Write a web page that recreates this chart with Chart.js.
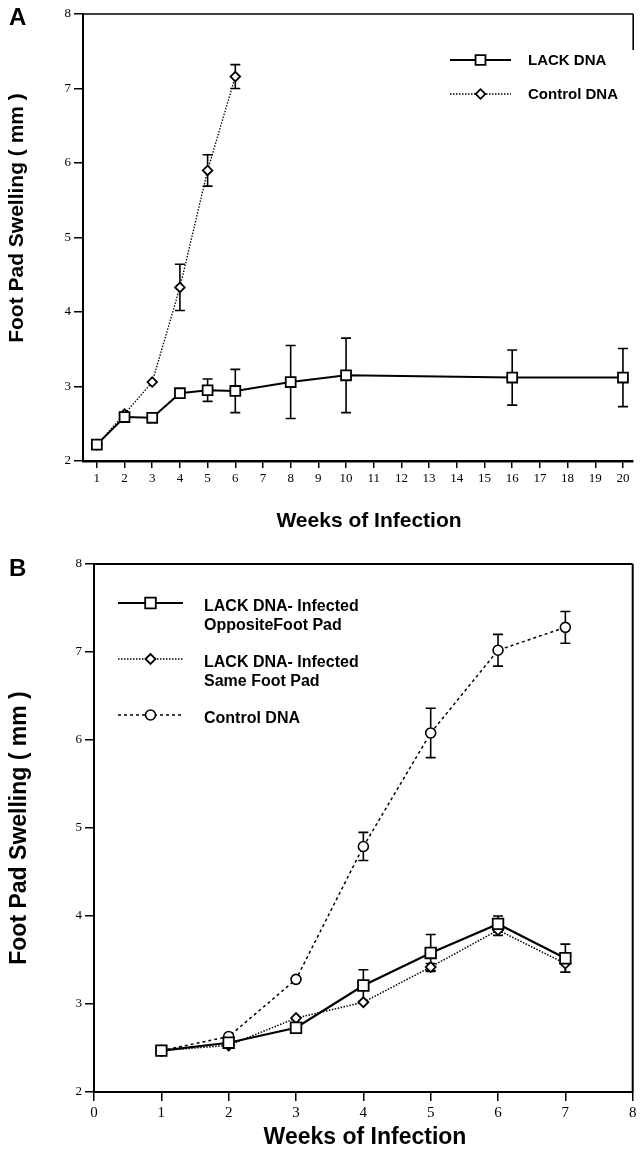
<!DOCTYPE html>
<html><head><meta charset="utf-8">
<script src="https://cdn.jsdelivr.net/npm/chart.js@4.4.0/dist/chart.umd.min.js"></script>
<style>
html,body{margin:0;padding:0;background:#fff;}
body{width:642px;height:1154px;position:relative;overflow:hidden;}
canvas{position:absolute;left:0;}
#cA{top:0;} #cB{top:540px;}
</style></head><body>
<canvas id="cA" width="642" height="540"></canvas>
<canvas id="cB" width="642" height="614"></canvas>
<script>
// ---------- Panel A data ----------
const weeksLackA = [1, 2, 3, 4, 5, 6, 8, 10, 16, 20];
const lackA      = [2.22, 2.59, 2.58, 2.91, 2.95, 2.94, 3.06, 3.15, 3.12, 3.12];
const lackErrA   = [0, 0, 0, 0, 0.15, 0.29, 0.49, 0.50, 0.37, 0.39];
const weeksCtrlA = [1, 2, 3, 4, 5, 6];
const ctrlA      = [2.22, 2.63, 3.06, 4.33, 5.90, 7.16];
const ctrlErrA   = [0, 0, 0, 0.31, 0.21, 0.16];
const xTicksA = [1,2,3,4,5,6,7,8,9,10,11,12,13,14,15,16,17,18,19,20];
const yTicksA = [2,3,4,5,6,7,8];

// ---------- Panel B data ----------
const weeksB     = [1, 2, 3, 4, 5, 6, 7];
const lackOppB   = [2.47, 2.56, 2.73, 3.21, 3.58, 3.91, 3.52];
const lackOppErr = [0, 0, 0, 0.18, 0.21, 0.09, 0.16];
const lackSameB  = [2.47, 2.53, 2.84, 3.02, 3.42, 3.84, 3.46];
const lackSameErr= [0, 0, 0, 0, 0.04, 0.06, 0.10];
const ctrlB      = [2.47, 2.63, 3.28, 4.79, 6.08, 7.02, 7.28];
const ctrlErrB   = [0, 0, 0, 0.16, 0.28, 0.18, 0.18];
const xTicksB = [0,1,2,3,4,5,6,7,8];
const yTicksB = [2,3,4,5,6,7,8];

const SANS = '"Liberation Sans", Arial, Helvetica, sans-serif';
const SERIF = '"Liberation Serif", "Times New Roman", serif';

function pts(xs, ys){ return xs.map((x,i)=>({x:x, y:ys[i]})); }

function drawMarker(ctx, style, x, y, r, bw){
  ctx.save();
  ctx.setLineDash([]);
  ctx.beginPath();
  if (style === 'rect') { const s = r*Math.SQRT1_2; ctx.rect(x-s, y-s, 2*s, 2*s); }
  else if (style === 'rectRot') { ctx.moveTo(x-r,y); ctx.lineTo(x,y-r); ctx.lineTo(x+r,y); ctx.lineTo(x,y+r); ctx.closePath(); }
  else { ctx.arc(x, y, r, 0, Math.PI*2); }
  ctx.fillStyle = '#fff'; ctx.fill();
  ctx.lineWidth = bw; ctx.strokeStyle = '#000'; ctx.stroke();
  ctx.restore();
}

const errorBars = {
  id: 'errorBars',
  beforeDatasetsDraw(chart){
    const ctx = chart.ctx, ys = chart.scales.y;
    chart.data.datasets.forEach((ds, di)=>{
      if (!ds.errors) return;
      const meta = chart.getDatasetMeta(di);
      meta.data.forEach((el, i)=>{
        const e = ds.errors[i]; if (!e) return;
        const v = ds.data[i].y;
        const yt = ys.getPixelForValue(v+e), yb = ys.getPixelForValue(v-e);
        const x = el.x, c = ds.capHalf || 5;
        ctx.save();
        ctx.strokeStyle = '#000'; ctx.lineWidth = ds.errWidth || 1.6; ctx.setLineDash([]);
        ctx.beginPath();
        ctx.moveTo(x, yt); ctx.lineTo(x, yb);
        ctx.moveTo(x-c, yt); ctx.lineTo(x+c, yt);
        ctx.moveTo(x-c, yb); ctx.lineTo(x+c, yb);
        ctx.stroke();
        ctx.restore();
      });
    });
  }
};

const deco = {
  id: 'deco',
  afterDraw(chart, args, o){
    const ctx = chart.ctx, a = chart.chartArea;
    ctx.save();
    ctx.strokeStyle = '#000';
    ctx.lineWidth = o.frameWidth;
    ctx.beginPath();
    ctx.moveTo(a.left, a.top); ctx.lineTo(a.right, a.top);
    ctx.stroke();
    if (o.rightLen) {
      ctx.beginPath();
      ctx.moveTo(a.right, a.top); ctx.lineTo(a.right, Math.min(a.bottom, a.top + o.rightLen));
      ctx.stroke();
    }
    ctx.fillStyle = '#000';
    ctx.textBaseline = 'middle';
    ctx.textAlign = 'left';
    ctx.font = 'bold ' + o.letter.size + 'px ' + SANS;
    ctx.fillText(o.letter.text, o.letter.x, o.letter.y);
    ctx.textAlign = 'center';
    ctx.font = 'bold ' + o.xTitle.size + 'px ' + SANS;
    ctx.fillText(o.xTitle.text, o.xTitle.x, o.xTitle.y);
    ctx.save();
    ctx.translate(o.yTitle.x, o.yTitle.y);
    ctx.rotate(-Math.PI/2);
    ctx.font = 'bold ' + o.yTitle.size + 'px ' + SANS;
    ctx.fillText(o.yTitle.text, 0, 0);
    ctx.restore();
    const L = o.legend;
    L.items.forEach(it=>{
      const ds = chart.data.datasets[it.ds];
      ctx.save();
      ctx.strokeStyle = '#000';
      ctx.lineWidth = ds.borderWidth;
      ctx.setLineDash(ds.borderDash || []);
      ctx.beginPath(); ctx.moveTo(L.x1, it.y); ctx.lineTo(L.x2, it.y); ctx.stroke();
      ctx.restore();
      drawMarker(ctx, ds.pointStyle, (L.x1+L.x2)/2, it.y, ds.pointRadius, ds.pointBorderWidth);
      ctx.textAlign = 'left';
      ctx.font = 'bold ' + L.size + 'px ' + SANS;
      it.text.forEach((t, k)=> ctx.fillText(t, L.textX, it.y + L.dy + k*L.lh));
    });
    ctx.restore();
  }
};

function axisOpts(min, max, ticksArr, fontSize, tickLen, borderW, fitFn){
  return {
    type: 'linear', min: min, max: max,
    afterBuildTicks: s => { s.ticks = ticksArr.map(v => ({value: v})); },
    ticks: { color: '#000', font: {family: SERIF, size: fontSize}, padding: 3, maxRotation: 0, autoSkip: false,
             callback: v => String(v) },
    grid: { drawOnChartArea: false, drawTicks: true, tickLength: tickLen, color: '#000', lineWidth: 1.5 },
    border: { display: true, color: '#000', width: borderW },
    afterFit: fitFn
  };
}

new Chart(document.getElementById('cA'), {
  type: 'line',
  data: { datasets: [
    { label: 'LACK DNA', data: pts(weeksLackA, lackA), errors: lackErrA,
      borderColor: '#000', borderWidth: 2, borderDash: [],
      pointStyle: 'rect', pointRadius: 7, pointBorderWidth: 1.8,
      pointBackgroundColor: '#fff', pointBorderColor: '#000', tension: 0 },
    { label: 'Control DNA', data: pts(weeksCtrlA, ctrlA), errors: ctrlErrA,
      borderColor: '#000', borderWidth: 1.3, borderDash: [1.5, 1.5],
      pointStyle: 'rectRot', pointRadius: 4.8, pointBorderWidth: 1.8,
      pointBackgroundColor: '#fff', pointBorderColor: '#000', tension: 0 }
  ]},
  options: {
    responsive: false, animation: false, events: [], devicePixelRatio: 1,
    layout: { padding: { top: 14, right: 1, left: 0, bottom: 0 } },
    scales: {
      x: axisOpts(0.5, 20.37, xTicksA, 13, 7, 2.5, s => { s.height = 540 - 461; }),
      y: axisOpts(2, 8, yTicksA, 13, 9, 2, s => { s.width = 83; })
    },
    plugins: {
      legend: { display: false }, tooltip: { enabled: false },
      deco: {
        frameWidth: 1.6, rightLen: 36,
        letter: { text: 'A', x: 9, y: 18, size: 24 },
        xTitle: { text: 'Weeks of Infection', x: 369, y: 521, size: 21 },
        yTitle: { text: 'Foot Pad Swelling ( mm )', x: 17, y: 218, size: 21 },
        legend: { x1: 450, x2: 511, textX: 528, size: 15, dy: 1, lh: 18,
                  items: [ { ds: 0, y: 60, text: ['LACK DNA'] }, { ds: 1, y: 94, text: ['Control DNA'] } ] }
      }
    }
  },
  plugins: [errorBars, deco]
});

new Chart(document.getElementById('cB'), {
  type: 'line',
  data: { datasets: [
    { label: 'LACK DNA- Infected OppositeFoot Pad', data: pts(weeksB, lackOppB), errors: lackOppErr,
      borderColor: '#000', borderWidth: 2.2, borderDash: [],
      pointStyle: 'rect', pointRadius: 7.5, pointBorderWidth: 1.8,
      pointBackgroundColor: '#fff', pointBorderColor: '#000', tension: 0 },
    { label: 'LACK DNA- Infected Same Foot Pad', data: pts(weeksB, lackSameB), errors: lackSameErr,
      borderColor: '#000', borderWidth: 1.5, borderDash: [1.5, 1.5],
      pointStyle: 'rectRot', pointRadius: 5, pointBorderWidth: 1.8,
      pointBackgroundColor: '#fff', pointBorderColor: '#000', tension: 0 },
    { label: 'Control DNA', data: pts(weeksB, ctrlB), errors: ctrlErrB,
      borderColor: '#000', borderWidth: 1.5, borderDash: [3, 3],
      pointStyle: 'circle', pointRadius: 5, pointBorderWidth: 1.6,
      pointBackgroundColor: '#fff', pointBorderColor: '#000', tension: 0 }
  ]},
  options: {
    responsive: false, animation: false, events: [], devicePixelRatio: 1,
    layout: { padding: { top: 24, right: 3, left: 0, bottom: 0 } },
    scales: {
      x: axisOpts(0, 8, xTicksB, 15, 9, 2, s => { s.height = 614 - 552; }),
      y: axisOpts(2, 8, yTicksB, 13, 9, 2, s => { s.width = 94; })
    },
    plugins: {
      legend: { display: false }, tooltip: { enabled: false },
      deco: {
        frameWidth: 2, rightLen: 10000,
        letter: { text: 'B', x: 9, y: 29, size: 24 },
        xTitle: { text: 'Weeks of Infection', x: 365, y: 598, size: 23 },
        yTitle: { text: 'Foot Pad Swelling ( mm )', x: 20, y: 288, size: 23 },
        legend: { x1: 118, x2: 183, textX: 204, size: 16, dy: 4, lh: 18.5,
                  items: [ { ds: 0, y: 63, text: ['LACK DNA- Infected', 'OppositeFoot Pad'] },
                           { ds: 1, y: 119, text: ['LACK DNA- Infected', 'Same Foot Pad'] },
                           { ds: 2, y: 175, text: ['Control DNA'] } ] }
      }
    }
  },
  plugins: [errorBars, deco]
});
</script>
</body></html>
